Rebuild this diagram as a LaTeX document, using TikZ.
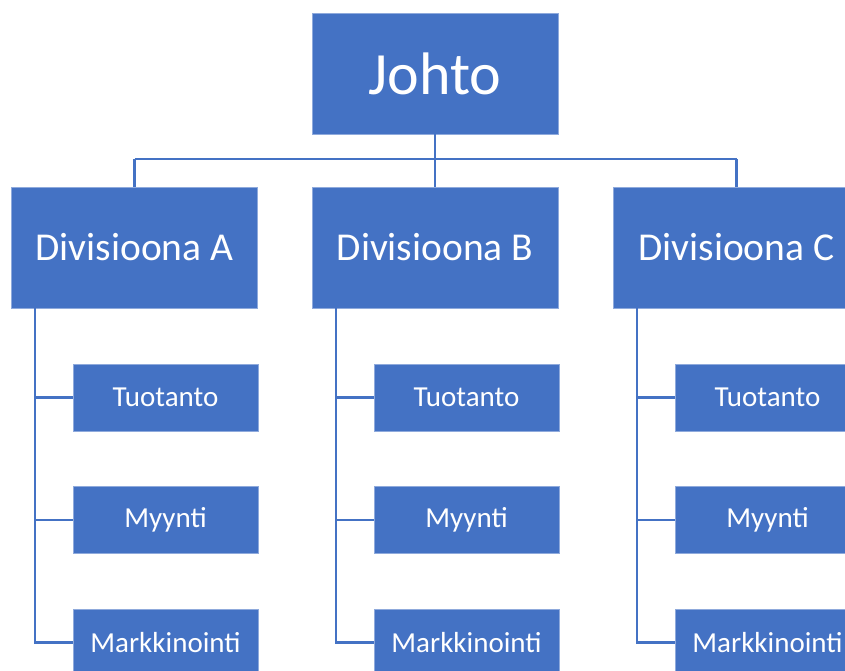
\documentclass[tikz,border=0pt]{standalone}
\usepackage{fontspec}
\setmainfont{Carlito}
\definecolor{boxblue}{HTML}{4472C4}
\definecolor{edgeblue}{HTML}{8FAADC}
\begin{document}
\begin{tikzpicture}[x=1pt,y=-1pt,
  basebox/.style={fill=boxblue,draw=edgeblue,line width=0.6pt,inner sep=0pt,text=white},
  topbox/.style={basebox,minimum width=246pt,minimum height=121pt,font=\fontsize{60}{66}\selectfont},
  divbox/.style={basebox,minimum width=246pt,minimum height=121pt,font=\fontsize{39.5}{46}\selectfont},
  subbox/.style={basebox,minimum width=185pt,minimum height=67pt,font=\fontsize{29}{34}\selectfont},
  link/.style={draw=boxblue,line width=2.4pt}]
\useasboundingbox (0,0) rectangle (845,670);
\clip (0,0) rectangle (845,670);
\node[topbox] (top) at (435,73.5) {Johto};
\coordinate (bar) at (435,159);
\foreach \n/\cx/\sx/\vx in {A/134.5/165.5/35,B/435/466.5/336,C/736.5/767.5/637}{
  \node[divbox] (div\n) at (\cx,247.5) {Divisioona \n};
  \coordinate (bar\n) at (\cx,159);
  \node[subbox] (tuo\n) at (\sx,397.5) {Tuotanto};
  \node[subbox] (myy\n) at (\sx,520) {Myynti};
  \node[subbox] (mar\n) at (\sx,642.5) {Markkinointi};
  \coordinate (v\n) at (\vx,308);
  \draw[link] (v\n) -- (v\n |- mar\n.west) -- (mar\n.west);
  \draw[link] (v\n |- tuo\n.west) -- (tuo\n.west);
  \draw[link] (v\n |- myy\n.west) -- (myy\n.west);
  \draw[link] (bar\n) -- (div\n.north);
}
\draw[link] (top.south) -- (bar);
\draw[link] (barA) -- (barC);
\end{tikzpicture}
\end{document}
